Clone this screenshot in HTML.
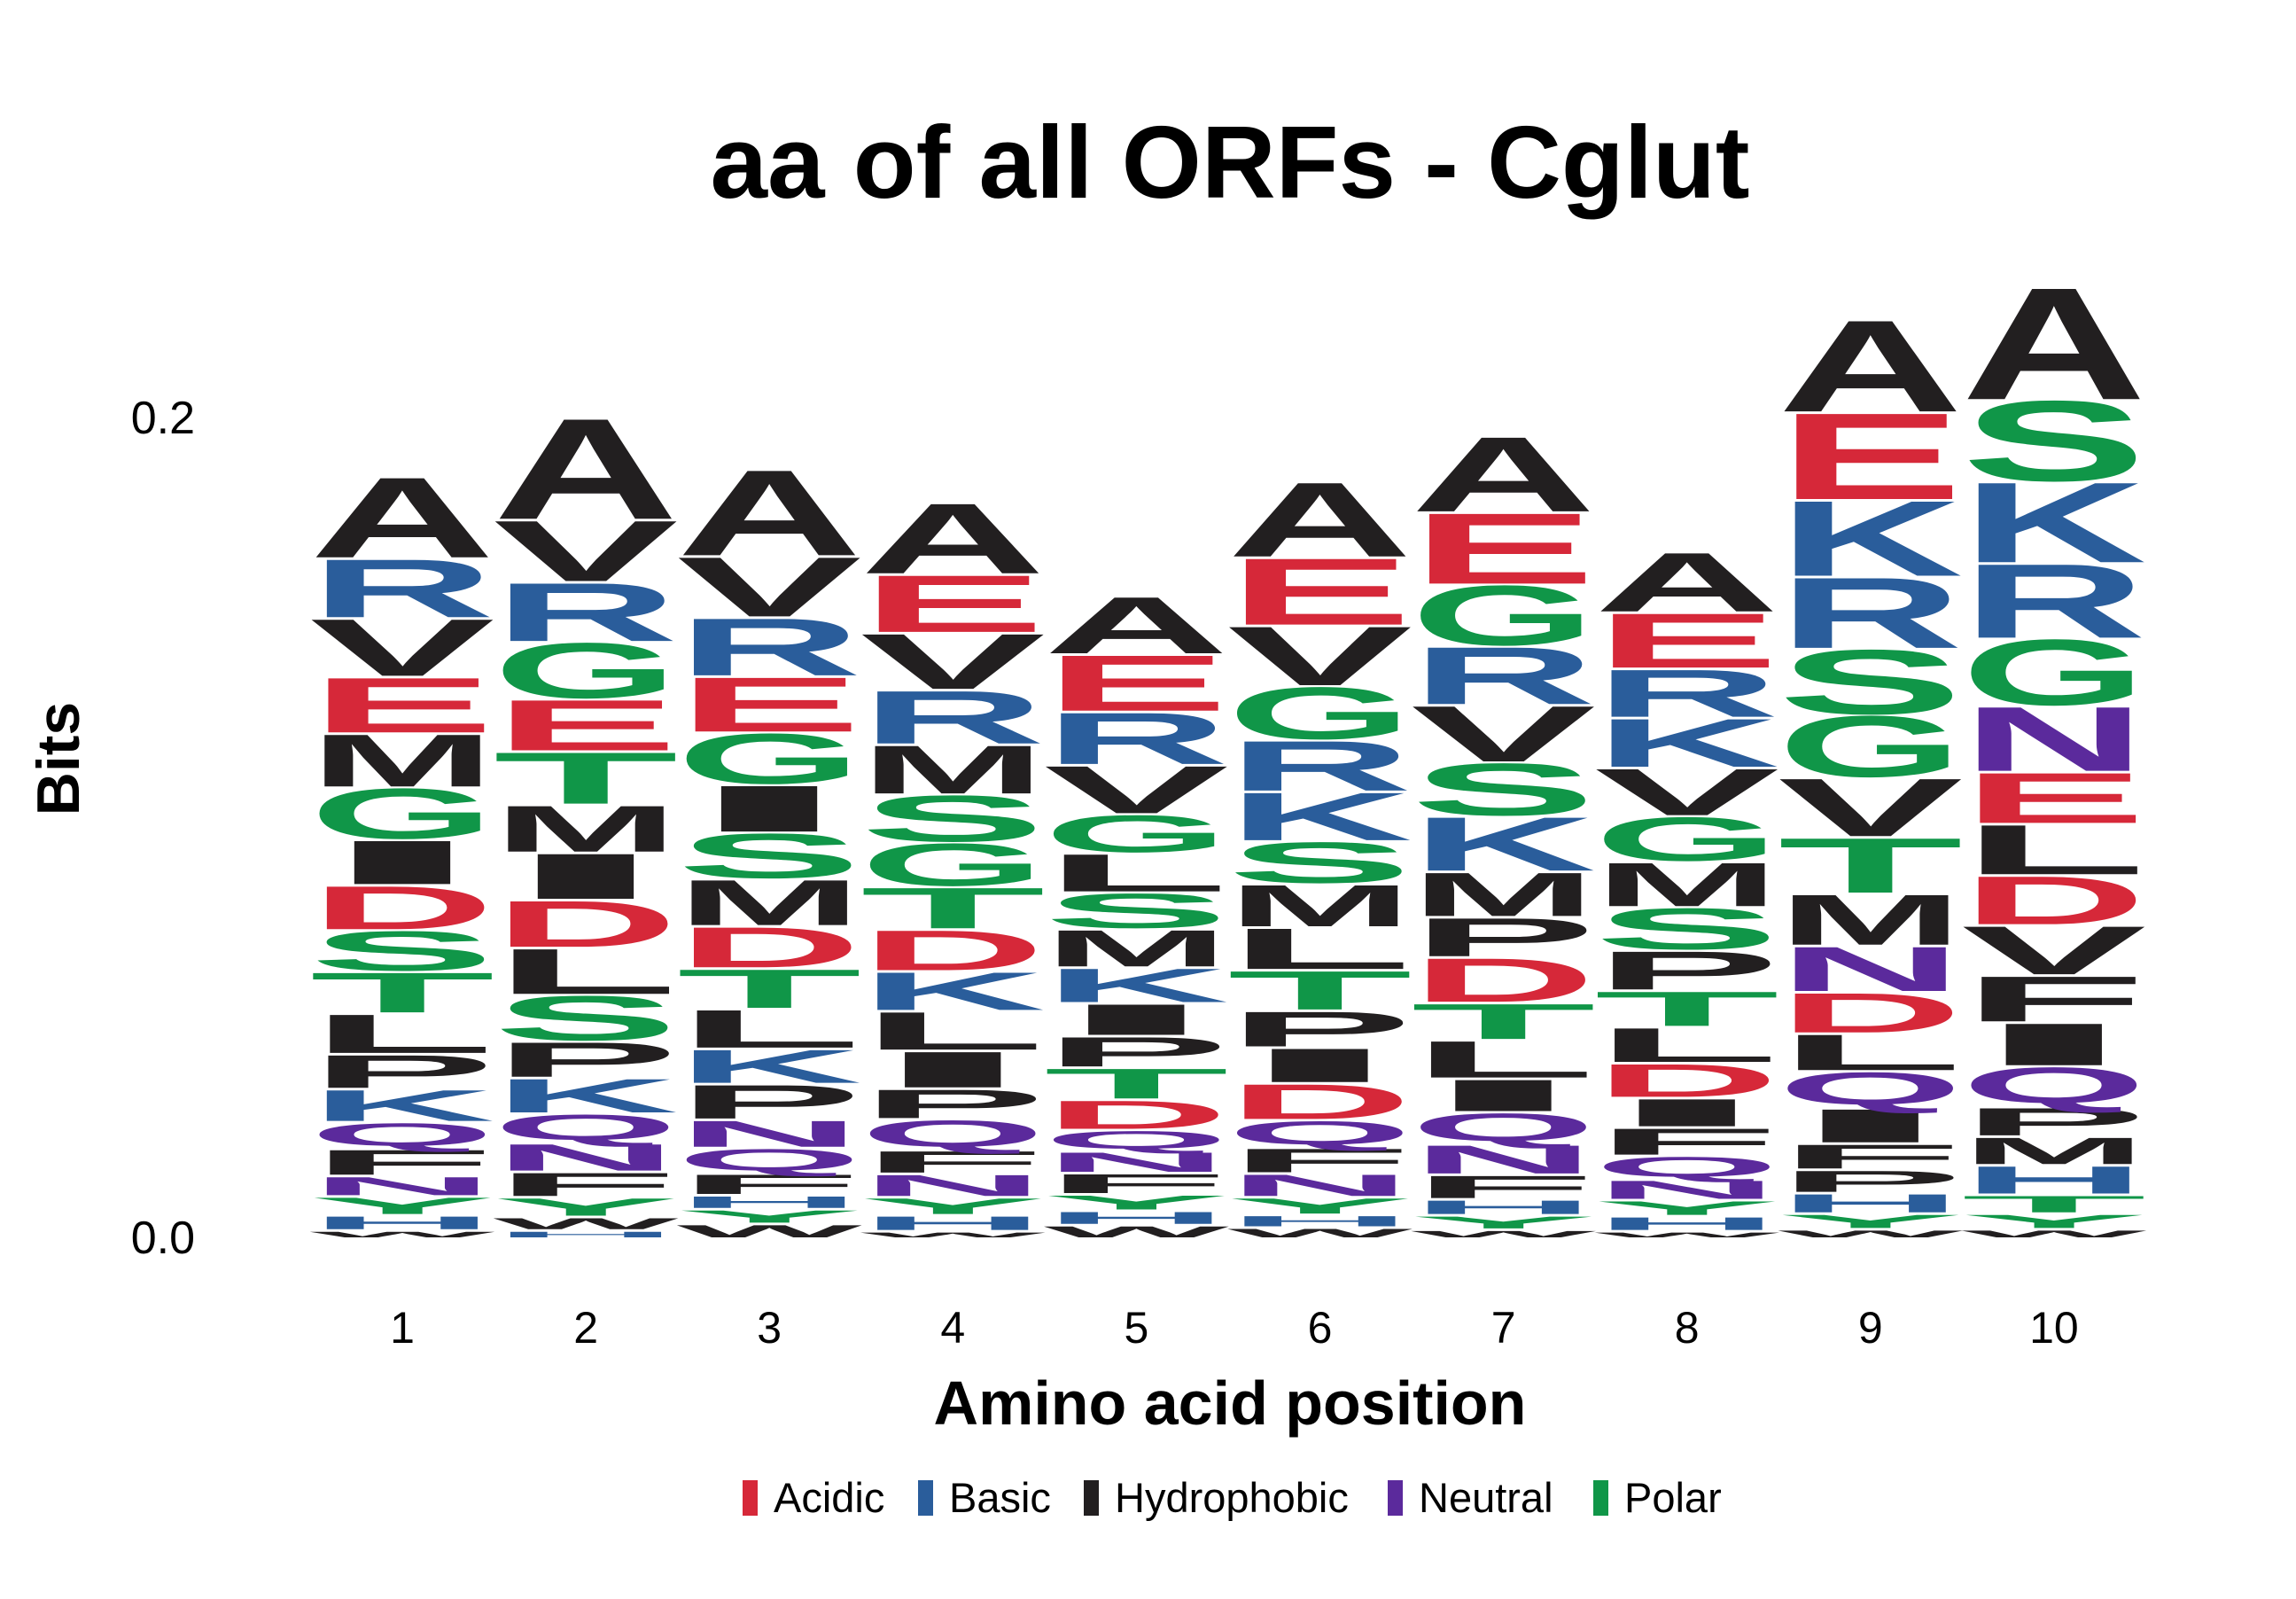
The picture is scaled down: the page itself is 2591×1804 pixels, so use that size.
<!DOCTYPE html>
<html><head><meta charset="utf-8"><style>
html,body{margin:0;padding:0;background:#fff;}
svg{display:block;}
text{font-family:"Liberation Sans",sans-serif;}
</style></head>
<body>
<svg id="chart" width="2591" height="1804" viewBox="0 0 2591 1804" xmlns="http://www.w3.org/2000/svg">
<text x="1388" y="223" font-size="116" font-weight="bold" text-anchor="middle" fill="#000">aa of all ORFs - Cglut</text>
<text x="0" y="0" font-size="68" font-weight="bold" text-anchor="middle" fill="#000" transform="translate(89,856) rotate(-90)">Bits</text>
<text x="1388" y="1607" font-size="70" font-weight="bold" text-anchor="middle" fill="#000">Amino acid position</text>
<g id="yticks"></g>
<g id="xticks"></g>
<g id="logo"></g>
<g id="legend"></g>
</svg>
<script>
const positions = [1,2,3,4,5,6,7,8,9,10];
const yTickValues = [0, 0.2];
const yTickLabels = ["0.0", "0.2"];
const letters1 = ["W","H","Y","N","F","Q","K","P","L","T","S","D","I","G","M","E","V","R","A"];
const bits1 = [.0020,.0037,.0046,.0050,.0066,.0065,.0081,.0085,.0099,.0102,.0101,.0110,.0111,.0127,.0132,.0138,.0143,.0146,.0199];
const letters2 = ["H","W","Y","F","N","Q","K","P","S","L","D","I","M","T","E","G","R","V","A"];
const bits2 = [.0020,.0033,.0048,.0062,.0070,.0072,.0087,.0089,.0113,.0115,.0117,.0115,.0117,.0130,.0128,.0139,.0146,.0152,.0248];
const letters3 = ["W","Y","H","F","Q","N","P","K","L","T","D","M","S","I","G","E","R","V","A"];
const bits3 = [.0036,.0036,.0034,.0053,.0062,.0069,.0087,.0086,.0097,.0099,.0103,.0115,.0113,.0117,.0127,.0137,.0144,.0149,.0212];
const letters4 = ["W","H","Y","N","F","Q","P","I","L","K","D","T","G","S","M","R","V","E","A"];
const bits4 = [.0018,.0039,.0044,.0057,.0058,.0075,.0075,.0092,.0097,.0097,.0102,.0104,.0108,.0117,.0122,.0133,.0139,.0143,.0175];
const letters5 = ["W","H","Y","F","N","Q","D","T","P","I","K","M","S","L","G","V","R","E","A"];
const bits5 = [.0033,.0035,.0040,.0052,.0053,.0052,.0074,.0078,.0077,.0080,.0087,.0094,.0089,.0096,.0095,.0120,.0130,.0140,.0142];
const letters6 = ["W","H","Y","N","F","Q","D","I","P","T","L","M","S","K","R","G","V","E","A"];
const bits6 = [.0027,.0031,.0043,.0058,.0063,.0067,.0090,.0087,.0090,.0099,.0104,.0106,.0104,.0121,.0126,.0131,.0148,.0166,.0185];
const letters7 = ["W","Y","H","F","N","Q","I","L","T","D","P","M","K","S","V","R","G","E","A"];
const bits7 = [.0022,.0035,.0039,.0060,.0074,.0078,.0082,.0094,.0091,.0111,.0098,.0111,.0135,.0131,.0140,.0144,.0150,.0176,.0186];
const letters8 = ["W","H","Y","N","Q","F","I","D","L","T","P","S","M","G","V","K","R","E","A"];
const bits8 = [.0018,.0037,.0039,.0050,.0058,.0069,.0072,.0085,.0088,.0089,.0098,.0105,.0111,.0111,.0118,.0122,.0120,.0137,.0148];
const letters9 = ["W","Y","H","P","F","I","Q","L","D","N","M","T","V","G","S","R","K","E","A"];
const bits9 = [.0023,.0038,.0050,.0057,.0064,.0086,.0090,.0092,.0101,.0113,.0127,.0138,.0145,.0153,.0161,.0176,.0187,.0214,.0226];
const letters10 = ["W","Y","T","H","M","P","Q","I","F","V","D","L","E","N","G","R","K","S","A"];
const bits10 = [.0023,.0038,.0046,.0072,.0070,.0072,.0099,.0107,.0115,.0122,.0122,.0125,.0127,.0161,.0164,.0184,.0199,.0199,.0275];
const legendLabels = ["Acidic","Basic","Hydrophobic","Neutral","Polar"];

const allLetters = [letters1,letters2,letters3,letters4,letters5,letters6,letters7,letters8,letters9,letters10];
const allBits = [bits1,bits2,bits3,bits4,bits5,bits6,bits7,bits8,bits9,bits10];
const NS = "http://www.w3.org/2000/svg";
const groupColor = {Acidic:"#d62839",Basic:"#2a5d9b",Hydrophobic:"#221f20",Neutral:"#5b2a9c",Polar:"#109648"};
const groupOf = {D:"Acidic",E:"Acidic",K:"Basic",R:"Basic",H:"Basic",A:"Hydrophobic",V:"Hydrophobic",L:"Hydrophobic",I:"Hydrophobic",P:"Hydrophobic",W:"Hydrophobic",F:"Hydrophobic",M:"Hydrophobic",Q:"Neutral",N:"Neutral",S:"Polar",G:"Polar",T:"Polar",Y:"Polar",C:"Polar"};
function xScale(p){ return 454 + (p-1)*207.1; }
function yScale(v){ return 1396 - v*4625; }
const colW = 197;
const CAP = 68.8;

const yt = document.getElementById('yticks');
yTickValues.forEach((v,i)=>{
  const t = document.createElementNS(NS,'text');
  
  
  t.setAttribute('x',220); t.setAttribute('y',yScale(v)+18);
  t.setAttribute('font-size',52); t.setAttribute('text-anchor','end');
  t.textContent = yTickLabels[i];
  yt.appendChild(t);
});
const xt = document.getElementById('xticks');
positions.forEach(p=>{
  const t = document.createElementNS(NS,'text');
  
  
  t.setAttribute('x',xScale(p)); t.setAttribute('y',1515);
  t.setAttribute('font-size',50); t.setAttribute('text-anchor','middle');
  t.textContent = String(p);
  xt.appendChild(t);
});
const logo = document.getElementById('logo');
positions.forEach((p,ci)=>{
  const g = document.createElementNS(NS,'g');
  
  
  let cum = 0;
  allLetters[ci].forEach((L,li)=>{
    const v = allBits[ci][li];
    const yb = yScale(cum);
    const yt2 = yScale(cum+v);
    cum += v;
    const h = Math.max(0.5,(yb-yt2)-3);
    let capH = CAP, base = 0;
    if(L==="Q"){ capH = CAP+6; base = 6; }
    const sy = h/capH;
    const t = document.createElementNS(NS,'text');
    
    
    t.setAttribute('x', xScale(p)-colW/2-6);
    t.setAttribute('y', 0);
    t.setAttribute('font-size',100);
    t.setAttribute('font-weight','bold');
    t.setAttribute('textLength', colW+12);
    t.setAttribute('lengthAdjust','spacingAndGlyphs');
    t.setAttribute('fill', groupColor[groupOf[L]]);
    t.setAttribute('transform','translate(0,'+(yb-base*sy)+') scale(1,'+sy+')');
    t.textContent = L;
    g.appendChild(t);
  });
  logo.appendChild(g);
});
const legend = document.getElementById('legend');
const legX = [838,1036,1223,1566,1798];
legendLabels.forEach((lab,i)=>{
  const r = document.createElementNS(NS,'rect');
  
  
  r.setAttribute('x',legX[i]); r.setAttribute('y',1670);
  r.setAttribute('width',17); r.setAttribute('height',40);
  r.setAttribute('fill',groupColor[lab]);
  legend.appendChild(r);
  const t = document.createElementNS(NS,'text');
  
  
  t.setAttribute('x',legX[i]+35); t.setAttribute('y',1706);
  t.setAttribute('font-size',47);
  t.textContent = lab;
  legend.appendChild(t);
});
</script>
</body></html>
